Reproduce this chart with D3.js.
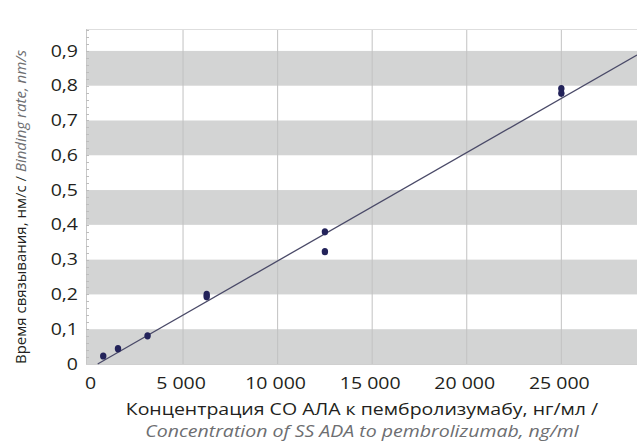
<!DOCTYPE html>
<html>
<head>
<meta charset="utf-8">
<script src="https://cdn.jsdelivr.net/npm/d3@7"></script>
<style>
  html, body { margin: 0; padding: 0; background: #fff; }
  svg { display: block; }
</style>
</head>
<body>
<svg id="chart" width="637" height="445"></svg>
<script>
// Concentration of SS ADA (ng/ml) and measured binding rate (nm/s)
const concentrations = [781, 1562, 3125, 6250, 6250, 12500, 12500, 25000, 25000];
const bindingRates   = [0.023, 0.044, 0.081, 0.200, 0.193, 0.380, 0.323, 0.792, 0.778];

// Calibration line end points
const trendConc = [487, 29000];
const trendRate = [0, 0.888];

const xTicks = [0, 5000, 10000, 15000, 20000, 25000];
const xTickLabels = ["0", "5 000", "10 000", "15 000", "20 000", "25 000"];
const yTicks = [0, 0.1, 0.2, 0.3, 0.4, 0.5, 0.6, 0.7, 0.8, 0.9];
const yTickLabels = ["0", "0,1", "0,2", "0,3", "0,4", "0,5", "0,6", "0,7", "0,8", "0,9"];
// Lower edges of the shaded bands (each 0.1 tall)
const bandStarts = [0, 0.2, 0.4, 0.6, 0.8];

const svg = d3.select("#chart");
const plotL = 86, plotR = 637, plotT = 29, plotB = 364;
const font = "'Open Sans', sans-serif";
const fs = 16;       // label font size
const sx = 1.22;     // horizontal stretch of the lettering

const x = d3.scaleLinear().domain([-130, 29000]).range([plotL, plotR]);
const y = d3.scaleLinear().domain([0, 0.963]).range([plotB, plotT]);

// Horizontal label helper: places text at (px, py), widened by sx
function label(g, px, py, anchor) {
  return g.attr("transform", `translate(${px},${py}) scale(${sx},1)`)
    .attr("text-anchor", anchor).attr("dy", "0.35em")
    .attr("font-family", font).attr("font-size", fs);
}

// Bands
svg.append("g").selectAll("rect").data(bandStarts).join("rect")
  .attr("x", plotL).attr("width", plotR - plotL)
  .attr("y", d => y(d + 0.1)).attr("height", d => y(d) - y(d + 0.1))
  .attr("fill", "#d3d4d4");

// Vertical grid lines
svg.append("g").selectAll("line").data(xTicks.filter(d => d > 0)).join("line")
  .attr("x1", d => x(d)).attr("x2", d => x(d))
  .attr("y1", plotT).attr("y2", plotB)
  .attr("stroke", "#c2c2c2").attr("stroke-width", 1);

// Top border
svg.append("line").attr("x1", plotL).attr("x2", plotR).attr("y1", plotT + 0.5).attr("y2", plotT + 0.5)
  .attr("stroke", "#dedede");

// Left axis with fine minor ticks
svg.append("line").attr("x1", plotL + 0.5).attr("x2", plotL + 0.5).attr("y1", plotT).attr("y2", plotB)
  .attr("stroke", "#c8c8c8");
const minor = d3.range(0, 0.961, 0.02);
svg.append("g").selectAll("line").data(minor).join("line")
  .attr("x1", plotL).attr("x2", plotL + 3)
  .attr("y1", d => Math.round(y(d)) + 0.5).attr("y2", d => Math.round(y(d)) + 0.5)
  .attr("stroke", "#bdbdbd");
// Bottom axis line
svg.append("line").attr("x1", plotL).attr("x2", plotR).attr("y1", plotB + 0.5).attr("y2", plotB + 0.5)
  .attr("stroke", "#cfcfcf");

// Y tick labels
svg.append("g").selectAll("text").data(yTicks).join("text")
  .each(function (d, i) {
    label(d3.select(this), 78, y(d), "end").attr("fill", "#231f20").text(yTickLabels[i]);
  });

// X tick labels
svg.append("g").selectAll("text").data(xTicks).join("text")
  .each(function (d, i) {
    label(d3.select(this), x(d) + (d === 0 ? 2 : -2), 383, "middle").attr("fill", "#231f20").text(xTickLabels[i]);
  });

// Calibration line
const line = d3.line().x(d => x(d[0])).y(d => y(d[1]));
svg.append("path")
  .datum(trendConc.map((c, i) => [c, trendRate[i]]))
  .attr("d", line).attr("fill", "none")
  .attr("stroke", "#4a4a68").attr("stroke-width", 1.3);

// Measured points
svg.append("g").selectAll("ellipse").data(concentrations).join("ellipse")
  .attr("cx", d => x(d)).attr("cy", (d, i) => y(bindingRates[i]))
  .attr("rx", 3.2).attr("ry", 3.6)
  .attr("fill", "#23235a");

// Axis titles
label(svg.append("text"), 362, 409, "middle").attr("fill", "#231f20")
  .text("Концентрация СО АЛА к пембролизумабу, нг/мл /");
label(svg.append("text"), 362, 431, "middle").attr("fill", "#6d6e71").attr("font-style", "italic")
  .text("Concentration of SS ADA to pembrolizumab, ng/ml");

const yt = svg.append("text")
  .attr("transform", "translate(21,207) rotate(-90)")
  .attr("text-anchor", "middle").attr("dy", "0.35em")
  .attr("font-family", font).attr("font-size", 15);
yt.append("tspan").attr("fill", "#231f20").text("Время связывания, нм/с / ");
yt.append("tspan").attr("fill", "#6d6e71").attr("font-style", "italic").text("Binding rate, nm/s");
</script>
</body>
</html>
